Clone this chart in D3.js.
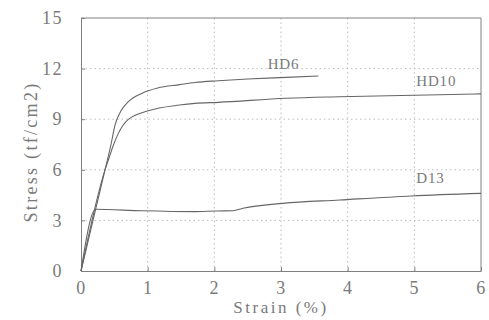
<!DOCTYPE html>
<html>
<head>
<meta charset="utf-8">
<script src="https://cdn.jsdelivr.net/npm/d3@7"></script>
<style>
  html, body { margin: 0; padding: 0; background: #fff; }
  svg { display: block; }
  text { font-family: "Liberation Serif", "Times New Roman", serif; fill: #7a7a7a; }
</style>
</head>
<body>
<script>
// Stress–strain curves for three bar types
const xTicks = [0, 1, 2, 3, 4, 5, 6];
const yTicks = [0, 3, 6, 9, 12, 15];

const hd6Strain = [0, 0.36, 0.45, 0.51, 0.6, 0.71, 0.91, 1.15, 1.48, 1.71, 2.06, 2.5, 3.08, 3.56];
const hd6Stress = [0, 6.0, 7.5, 8.65, 9.5, 10.04, 10.53, 10.85, 11.05, 11.18, 11.28, 11.38, 11.48, 11.56];

const hd10Strain = [0, 0.36, 0.41, 0.48, 0.56, 0.71, 1.01, 1.48, 1.71, 2.06, 3.08, 3.88, 5.0, 5.91, 6.0];
const hd10Stress = [0, 6.0, 6.58, 7.4, 8.16, 8.99, 9.5, 9.84, 9.94, 10.0, 10.24, 10.33, 10.42, 10.49, 10.5];

const d13Strain = [0, 0.22, 0.91, 1.71, 2.03, 2.28, 2.43, 3.03, 3.88, 4.96, 6.0];
const d13Stress = [0, 3.66, 3.57, 3.52, 3.56, 3.57, 3.72, 4.01, 4.21, 4.45, 4.6];

const seriesNames = ["HD6", "HD10", "D13"];
const labelPos = [[2.8, 12.0], [5.03, 10.95], [5.03, 5.2]];

const W = 489, H = 320;
const margin = { left: 81, right: 8, top: 18, bottom: 49 };

const svg = d3.select("body").append("svg").attr("width", W).attr("height", H);

const x = d3.scaleLinear().domain([0, 6]).range([margin.left, W - margin.right]);
const y = d3.scaleLinear().domain([0, 15]).range([H - margin.bottom, margin.top]);

// dotted grid
svg.append("g").selectAll("line").data(xTicks.slice(1, -1)).join("line")
  .attr("x1", d => x(d)).attr("x2", d => x(d))
  .attr("y1", y(15)).attr("y2", y(0))
  .attr("stroke", "#bcbcbc").attr("stroke-width", 1).attr("stroke-dasharray", "1.5,3");
svg.append("g").selectAll("line").data(yTicks.slice(1, -1)).join("line")
  .attr("y1", d => y(d)).attr("y2", d => y(d))
  .attr("x1", x(0)).attr("x2", x(6))
  .attr("stroke", "#bcbcbc").attr("stroke-width", 1).attr("stroke-dasharray", "1.5,3");

// axes with inward ticks
const fmt = d3.format("d");
const xAxis = svg.append("g").attr("transform", `translate(0,${y(0)})`)
  .call(d3.axisBottom(x).tickValues(xTicks).tickFormat(fmt).tickSizeInner(-4).tickSizeOuter(0).tickPadding(10));
const yAxis = svg.append("g").attr("transform", `translate(${x(0)},0)`)
  .call(d3.axisLeft(y).tickValues(yTicks).tickFormat(fmt).tickSizeInner(-4).tickSizeOuter(0).tickPadding(18));
[xAxis, yAxis].forEach(g => {
  g.select(".domain").attr("stroke", "#808080");
  g.selectAll(".tick line").attr("stroke", "#808080");
  g.selectAll(".tick text").attr("fill", "#7a7a7a")
    .style("font-family", '"Liberation Serif", serif').style("font-size", "18px")
    .style("letter-spacing", "1.5px");
});

// frame top and right
svg.append("line").attr("x1", x(0)).attr("x2", x(6)).attr("y1", y(15)).attr("y2", y(15)).attr("stroke", "#808080");
svg.append("line").attr("x1", x(6)).attr("x2", x(6)).attr("y1", y(15)).attr("y2", y(0)).attr("stroke", "#808080");

// curves
const series = [
  d3.zip(hd6Strain, hd6Stress),
  d3.zip(hd10Strain, hd10Stress),
  d3.zip(d13Strain, d13Stress)
];
const line = d3.line().x(d => x(d[0])).y(d => y(d[1])).curve(d3.curveMonotoneX);
svg.append("g").selectAll("path").data(series).join("path")
  .attr("d", line).attr("fill", "none").attr("stroke", "#666").attr("stroke-width", 1.1);

// series labels
svg.append("g").selectAll("text").data(seriesNames).join("text")
  .attr("x", (d, i) => x(labelPos[i][0])).attr("y", (d, i) => y(labelPos[i][1]))
  .style("font-size", "15px").style("letter-spacing", "0.8px")
  .text(d => d);

// axis titles
svg.append("text").attr("x", x(3)).attr("y", 313).attr("text-anchor", "middle")
  .style("font-size", "17px").style("letter-spacing", "2.5px").text("Strain (%)");
svg.append("text").attr("transform", `translate(37,152) rotate(-90)`).attr("text-anchor", "middle")
  .style("font-size", "18px").style("letter-spacing", "2.3px").text("Stress (tf/cm2)");
</script>
</body>
</html>
